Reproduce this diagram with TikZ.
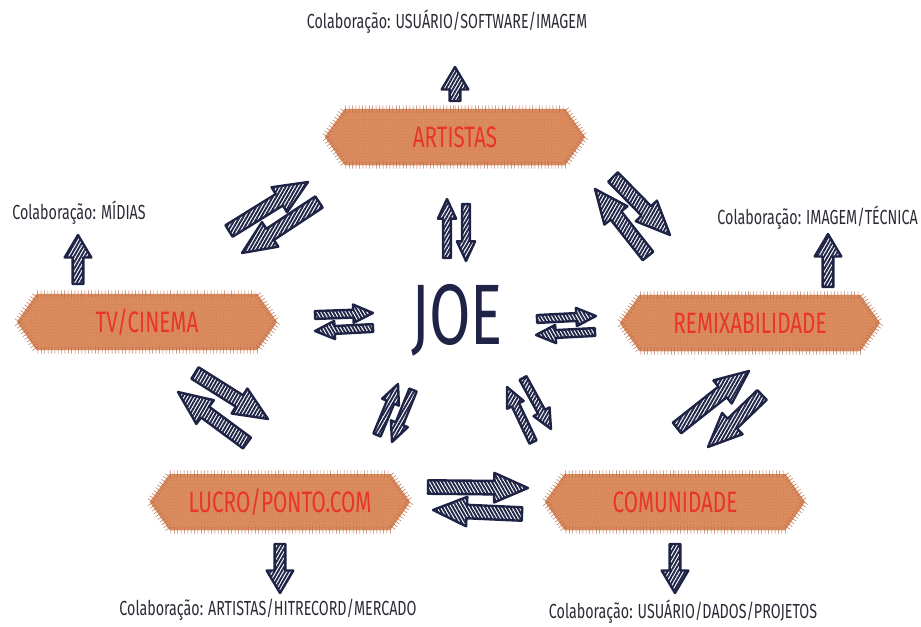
\documentclass[tikz,border=0pt]{standalone}
\usepackage{fontspec}
\setmainfont{Fira Sans}[FakeStretch=0.7]
\usepackage{tikz}
\usetikzlibrary{calc,shapes.symbols,patterns.meta,decorations.pathreplacing}
\definecolor{navy}{HTML}{1F2346}
\definecolor{cloth}{HTML}{DD8C5E}
\definecolor{fringe}{HTML}{B86E4E}
\definecolor{tag}{HTML}{E8342A}
\definecolor{ink}{HTML}{2B2B36}
\tikzstyle{tagbox} = [shape=signal, signal to=east and west, signal pointer angle=110,
	minimum width=6.5cm, minimum height=1.4cm, inner sep=0pt, fill=cloth,
	text=tag, font=\fontsize{21}{22}\selectfont,
	postaction={pattern={Lines[angle=0,distance=2.2pt,line width=0.2pt]}, pattern color=fringe!18!cloth},
	postaction={pattern={Lines[angle=90,distance=2.2pt,line width=0.2pt]}, pattern color=fringe!18!cloth},
	postaction={decorate, draw=fringe, line width=0.35pt,
		decoration={ticks, segment length=2.4pt, amplitude=2.6pt}}]
\tikzstyle{caption} = [text=ink, font=\fontsize{14.5}{16}\selectfont, inner sep=0pt]
\tikzstyle{hatch} = [draw=navy, line width=1.7pt, line join=round,
	pattern={Lines[angle=60,distance=2.2pt,line width=1.35pt]}, pattern color=navy]
\tikzstyle{hatchflat} = [pattern={Lines[angle=120,distance=2.2pt,line width=1.35pt]}]
% shaft half width, head half width, head length
\newcommand\arrowsize[3]{\def\shaftw{#1}\def\headw{#2}\def\headl{#3}}
% hatched block arrow from tail #2 to tip #3
\newcommand\sketcharrow[3][]{%
	\draw[hatch,#1] ($(#2)!\shaftw!90:(#3)$)
		-- ($(#3)!\headl!(#2)!\shaftw!-90:(#2)$)
		-- ($(#3)!\headl!(#2)!\headw!-90:(#2)$)
		-- (#3)
		-- ($(#3)!\headl!(#2)!\headw!90:(#2)$)
		-- ($(#3)!\headl!(#2)!\shaftw!90:(#2)$)
		-- ($(#2)!\shaftw!-90:(#3)$) -- cycle;}

\begin{document}
\begin{tikzpicture}[x=0.025cm, y=-0.025cm]
	\useasboundingbox (0,0) rectangle (921,626);

	\node (joe) at (457,320) [text=navy, font=\fontsize{61}{61}\selectfont] {JOE};
	\node (art) at (455,137) [tagbox] {ARTISTAS};
	\node (tv) at (147,322) [tagbox] {TV/CINEMA};
	\node (remix) at (750,323) [tagbox] {REMIXABILIDADE};
	\node (lucro) at (280,502) [tagbox] {LUCRO/PONTO.COM};
	\node (comun) at (675,502) [tagbox] {COMUNIDADE};

	\node (capart) at (447,22) [caption] {Colaboração: USUÁRIO/SOFTWARE/IMAGEM};
	\node (captv) at (12,213) [caption, anchor=west] {Colaboração: MÍDIAS};
	\node (capremix) at (918,218) [caption, anchor=east] {Colaboração: IMAGEM/TÉCNICA};
	\node (caplucro) at (268,610) [caption] {Colaboração: ARTISTAS/HITRECORD/MERCADO};
	\node (capcomun) at (683,612) [caption] {Colaboração: USUÁRIO/DADOS/PROJETOS};

	% ends of the block arrows
	\coordinate (a1) at (455,101); \coordinate (a2) at (455,67);
	\coordinate (t1) at (78,284); \coordinate (t2) at (78,235);
	\coordinate (r1) at (828,287); \coordinate (r2) at (828,234);
	\coordinate (l1) at (280,544); \coordinate (l2) at (280,593);
	\coordinate (c1) at (675,544); \coordinate (c2) at (675,593);

	\coordinate (at1) at (229,231); \coordinate (at2) at (308,182);
	\coordinate (at3) at (319,202); \coordinate (at4) at (242,253);
	\coordinate (ar1) at (648,256); \coordinate (ar2) at (595,189);
	\coordinate (ar3) at (613,177); \coordinate (ar4) at (670,235);
	\coordinate (tl1) at (247,443); \coordinate (tl2) at (178,392);
	\coordinate (tl3) at (195,373); \coordinate (tl4) at (268,419);
	\coordinate (rc1) at (677,428); \coordinate (rc2) at (749,371);
	\coordinate (rc3) at (762,395); \coordinate (rc4) at (708,447);
	\coordinate (lc1) at (428,487); \coordinate (lc2) at (528,488);
	\coordinate (lc3) at (522,514); \coordinate (lc4) at (433,510);

	\coordinate (ja1) at (447,258); \coordinate (ja2) at (447,199);
	\coordinate (ja3) at (466,204); \coordinate (ja4) at (466,261);
	\coordinate (jt1) at (315,315); \coordinate (jt2) at (373,313);
	\coordinate (jt3) at (373,328); \coordinate (jt4) at (315,331);
	\coordinate (jr1) at (537,319); \coordinate (jr2) at (596,316);
	\coordinate (jr3) at (595,332); \coordinate (jr4) at (536,335);
	\coordinate (jl1) at (377,435); \coordinate (jl2) at (398,384);
	\coordinate (jl3) at (413,390); \coordinate (jl4) at (392,442);
	\coordinate (jc1) at (533,442); \coordinate (jc2) at (507,387);
	\coordinate (jc3) at (523,378); \coordinate (jc4) at (551,429);

	\arrowsize{3.8pt}{9.5pt}{16pt}
	\sketcharrow{a1}{a2}
	\sketcharrow{t1}{t2}
	\sketcharrow{r1}{r2}
	\sketcharrow{l1}{l2}
	\sketcharrow{c1}{c2}

	\arrowsize{4.8pt}{10.5pt}{24pt}
	\sketcharrow{at1}{at2}
	\sketcharrow{at3}{at4}
	\sketcharrow{ar1}{ar2}
	\sketcharrow{ar3}{ar4}
	\sketcharrow{tl1}{tl2}
	\sketcharrow{tl3}{tl4}
	\sketcharrow{rc1}{rc2}
	\sketcharrow{rc3}{rc4}
	\sketcharrow[hatchflat]{lc1}{lc2}
	\sketcharrow[hatchflat]{lc3}{lc4}

	\arrowsize{2.8pt}{6.5pt}{14pt}
	\sketcharrow{ja1}{ja2}
	\sketcharrow{ja3}{ja4}
	\sketcharrow[hatchflat]{jt1}{jt2}
	\sketcharrow[hatchflat]{jt3}{jt4}
	\sketcharrow[hatchflat]{jr1}{jr2}
	\sketcharrow[hatchflat]{jr3}{jr4}
	\sketcharrow{jl1}{jl2}
	\sketcharrow{jl3}{jl4}
	\sketcharrow{jc1}{jc2}
	\sketcharrow{jc3}{jc4}
\end{tikzpicture}
\end{document}
